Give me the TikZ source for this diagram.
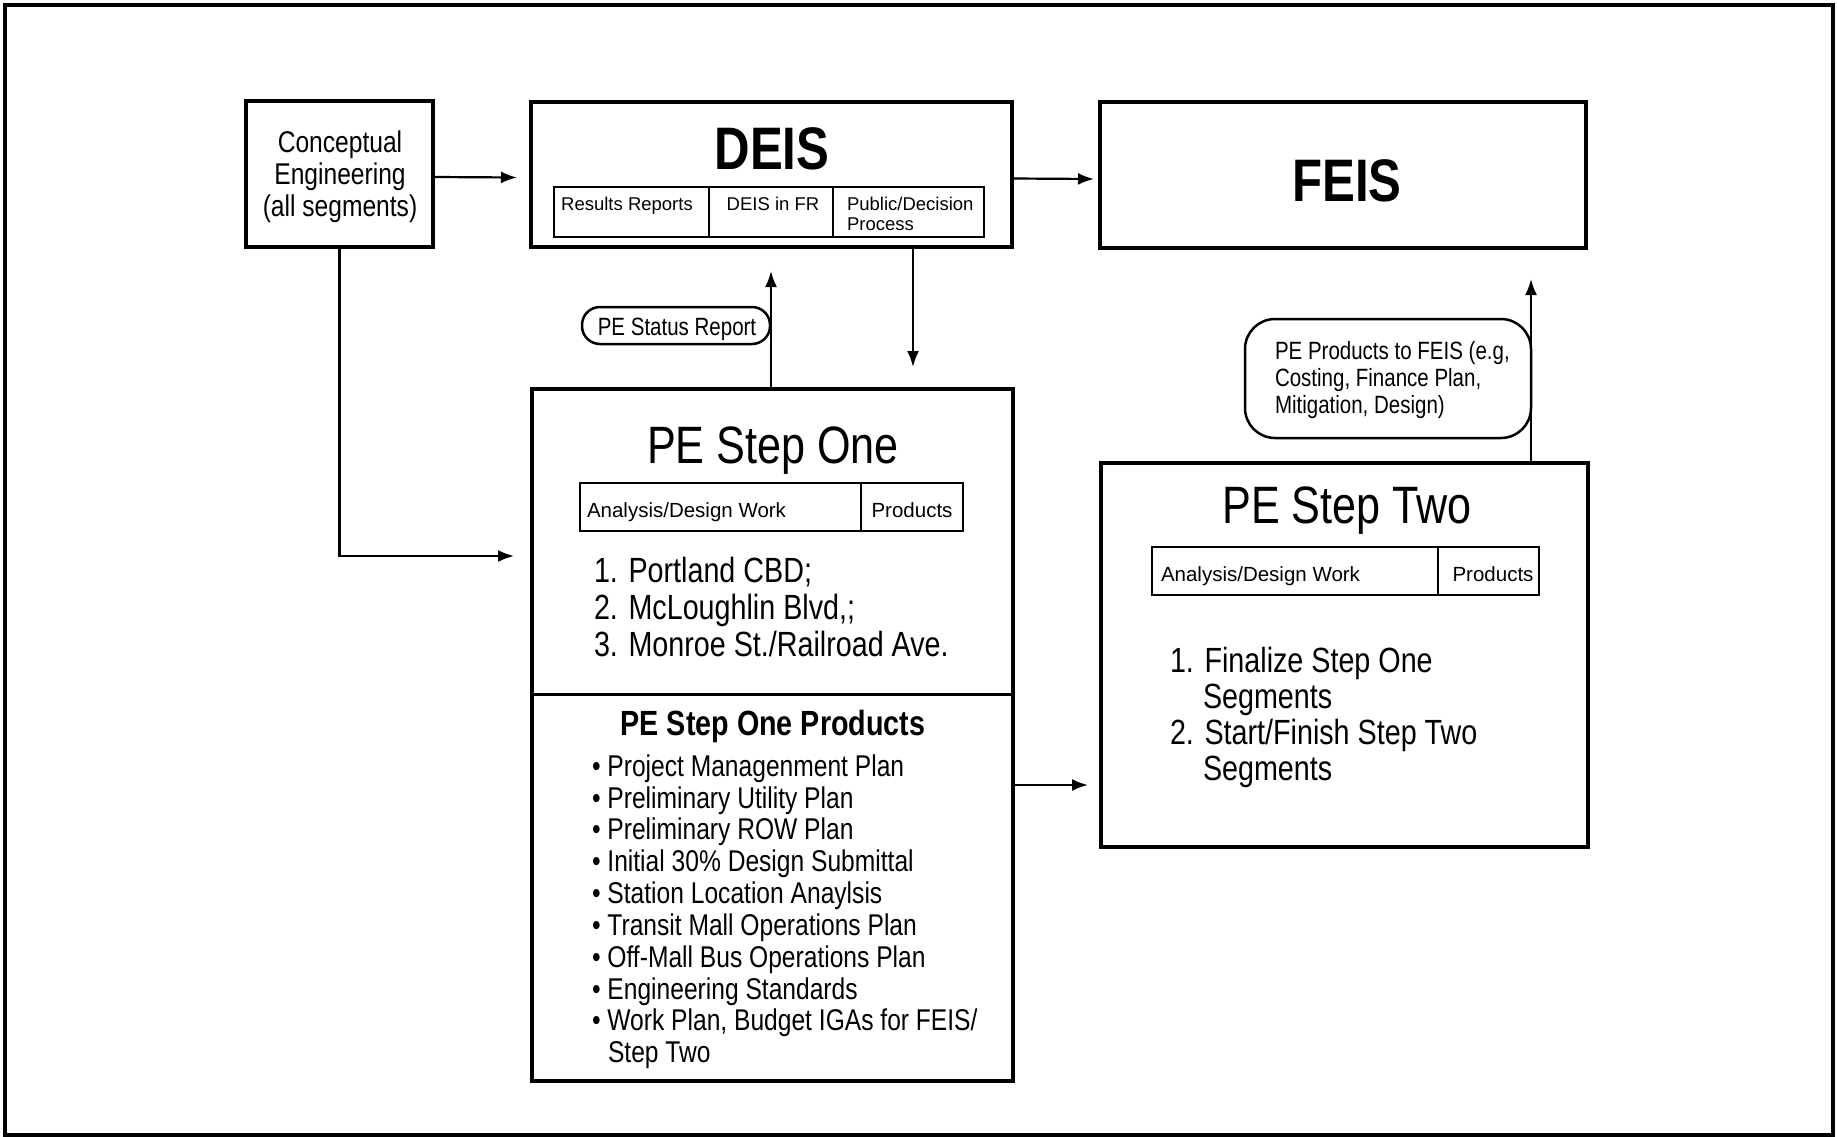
\documentclass[tikz,border=0pt]{standalone}
\usepackage{fontspec}
\setmainfont{Liberation Sans}
\newfontfamily\nar[FakeStretch=0.82]{Liberation Sans}
\usetikzlibrary{arrows.meta,fit}
\newcommand\myfs[2]{\fontsize{#1}{#2}\selectfont}
\begin{document}
\begin{tikzpicture}[x=1pt,y=-1pt,
  box/.style={draw, line width=3.5pt, inner sep=0pt, outer sep=0pt},
  tbl/.style={draw, line width=2.5pt, inner sep=0pt, outer sep=0pt},
  arr/.style={line width=2.2pt, -{Latex[length=16pt,width=12pt]}},
  txt/.style={inner sep=0pt, outer sep=0pt},
  cetxt/.style={txt, font=\nar\myfs{30}{32}, anchor=base},
  bigtxt/.style={txt, font=\nar\bfseries\myfs{60}{62}, anchor=base},
  smalltxt/.style={txt, font=\myfs{18.5}{19}},
  celltxt/.style={txt, font=\myfs{20.5}{22}},
  titletxt/.style={txt, font=\nar\myfs{52.6}{55}, anchor=base},
  lsttxt/.style={txt, font=\nar\myfs{35}{37}, anchor=base west},
  bultxt/.style={txt, font=\nar\myfs{30}{32}, anchor=base west},
  notetxt/.style={txt, font=\nar\myfs{25}{27}},
]
\useasboundingbox (0,0) rectangle (1837,1137);
\node[box, fit={(5,5)(1833,1135)}] (frame) {};

% boxes
\node[box, fit={(246,101)(433,247)}] (ce) {};
\node[box, fit={(531,102)(1012,247)}] (deis) {};
\node[box, fit={(1100,102)(1586,248)}] (feis) {};
\node[box, fit={(532,389)(1013,1081)}] (pe1) {};
\node[box, fit={(1101,463)(1588,847)}] (pe2) {};
\node[tbl, rounded corners=18pt, fit={(582,307)(770,344)}] (status) {};
\node[tbl, rounded corners=30pt, fit={(1245,319)(1531,438)}] (prod) {};
\node[tbl, fit={(554,187)(984,237)}] (dtab) {};
\node[tbl, fit={(580,483)(963,531)}] (t1) {};
\node[tbl, fit={(1152,547)(1539,595)}] (t2) {};

% dividers
\draw[line width=2.5pt] (dtab.north -| 709,0) -- (dtab.south -| 709,0);
\draw[line width=2.5pt] (dtab.north -| 833,0) -- (dtab.south -| 833,0);
\draw[line width=2.5pt] (t1.north -| 861,0) -- (t1.south -| 861,0);
\draw[line width=2.5pt] (t2.north -| 1438,0) -- (t2.south -| 1438,0);
\draw[line width=3pt] (pe1.west |- 0,694) -- (pe1.east |- 0,694);

% conceptual
\node[cetxt] (ce1) at (340,153) {Conceptual};
\node[cetxt] (ce2) at (340,184) {Engineering};
\node[cetxt] (ce3) at (340,216) {(all segments)};

% DEIS / FEIS
\node[bigtxt] (deisT) at (772,170) {DEIS};
\node[bigtxt] (feisT) at (1347,201) {FEIS};
\node[smalltxt, anchor=base] (rr) at (627,210) {Results Reports};
\node[smalltxt, anchor=base] (dfr) at (773,210) {DEIS in FR};
\node[smalltxt, anchor=base west] (pd1) at (847,211) {Public/Decision};
\node[smalltxt, anchor=base west] (pd2) at (847,230) {Process};

% status
\node[notetxt, anchor=base] (statT) at (677,335) {PE Status Report};

% PE step one
\node[titletxt] (pe1T) at (773,463) {PE Step One};
\node[celltxt, anchor=base west] (ad1) at (587,517) {Analysis/Design Work};
\node[celltxt, anchor=base] (pr1) at (912,517) {Products};
\node[lsttxt] (l11) at (594,582) {1. Portland CBD;};
\node[lsttxt] (l12) at (594,619) {2. McLoughlin Blvd,;};
\node[lsttxt] (l13) at (594,656) {3. Monroe St./Railroad Ave.};
\node[txt, font=\nar\bfseries\myfs{35}{37}, anchor=base] (prT) at (773,735) {PE Step One Products};
\node[bultxt] (b1) at (592,776) {\textbullet~Project Managenment Plan};
\node[bultxt] (b2) at (592,808) {\textbullet~Preliminary Utility Plan};
\node[bultxt] (b3) at (592,839) {\textbullet~Preliminary ROW Plan};
\node[bultxt] (b4) at (592,871) {\textbullet~Initial 30\% Design Submittal};
\node[bultxt] (b5) at (592,903) {\textbullet~Station Location Anaylsis};
\node[bultxt] (b6) at (592,935) {\textbullet~Transit Mall Operations Plan};
\node[bultxt] (b7) at (592,967) {\textbullet~Off-Mall Bus Operations Plan};
\node[bultxt] (b8) at (592,999) {\textbullet~Engineering Standards};
\node[bultxt] (b9) at (592,1030) {\textbullet~Work Plan, Budget IGAs for FEIS/};
\node[bultxt] (b10) at (608,1062) {Step Two};

% PE step two
\node[titletxt] (pe2T) at (1347,523) {PE Step Two};
\node[celltxt, anchor=base west] (ad2) at (1161,581) {Analysis/Design Work};
\node[celltxt, anchor=base] (pr2) at (1493,581) {Products};
\node[lsttxt] (l21) at (1170,672) {1. Finalize Step One};
\node[lsttxt] (l22) at (1203,708) {Segments};
\node[lsttxt] (l23) at (1170,744) {2. Start/Finish Step Two};
\node[lsttxt] (l24) at (1203,780) {Segments};

% products note
\node[notetxt, anchor=base west] (n1) at (1275,359) {PE Products to FEIS (e.g,};
\node[notetxt, anchor=base west] (n2) at (1275,386) {Costing, Finance Plan,};
\node[notetxt, anchor=base west] (n3) at (1275,413) {Mitigation, Design)};

% connectors
\coordinate (ceEnd) at (514,556);
\coordinate (upTip) at (771,271);
\coordinate (downTip) at (913,367);
\coordinate (p2Tip) at (1088,785);
\coordinate (fTip) at (1531,279);
\draw[arr] ([yshift=-3pt]ce.east) -- ([xshift=-14pt,yshift=-3pt]deis.west);
\draw[arr] ([yshift=-4pt]deis.east) -- ([xshift=-6pt,yshift=-4pt]feis.west);
\draw[arr] (ce.south) |- (ceEnd);
\draw[arr] (upTip |- pe1.north) -- (upTip);
\draw[arr] (downTip |- deis.south) -- (downTip);
\draw[arr] (p2Tip -| pe1.east) -- (p2Tip);
\draw[arr] (fTip |- pe2.north) -- (fTip);
\end{tikzpicture}
\end{document}
